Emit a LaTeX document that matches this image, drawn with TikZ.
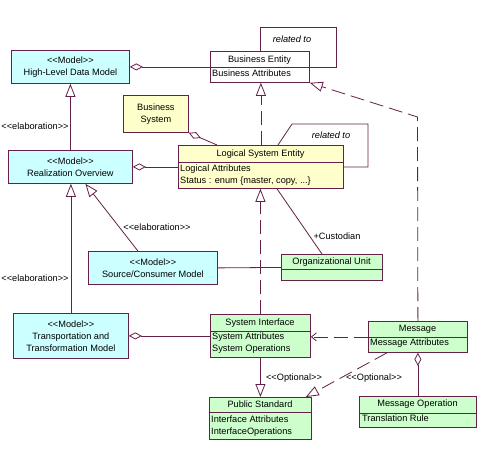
\documentclass[tikz,border=0pt]{standalone}
\usepackage{fontspec}
\setmainfont{Liberation Sans}
\usetikzlibrary{arrows.meta}
\definecolor{lc}{RGB}{100,32,72}
\definecolor{cyanf}{RGB}{204,255,255}
\definecolor{yelf}{RGB}{255,255,204}
\definecolor{grnf}{RGB}{204,255,204}
\newcommand\stOpen{<{}<}
\newcommand\stClose{>{}>}
\begin{document}
\begin{tikzpicture}[x=1pt,y=-1pt,
  every node/.style={font=\fontsize{9.2}{12}\selectfont},
  umlbox/.style={draw=lc, line width=0.8pt, rectangle, inner sep=0pt, anchor=north west},
  model/.style={umlbox, fill=cyanf, align=center},
  txt/.style={inner sep=0pt, anchor=mid},
  ltxt/.style={inner sep=0pt, anchor=mid west},
  conn/.style={draw=lc, line width=0.8pt},
  dsh/.style={dash pattern=on 14pt off 6pt},
  gen/.style={-{Triangle[open,length=13pt,width=10pt]}},
  agg/.style={-{Diamond[open,length=13pt,width=7pt]}},
  dep/.style={-{Straight Barb[length=5pt,width=8pt]}}
]
\fill[white] (0,0) rectangle (479,463);
\useasboundingbox (0,0) rectangle (479,463);

% ---- boxes ----
\node[model, minimum width=118pt, minimum height=33pt] (hldm) at (11,50) {\stOpen Model\stClose\\High-Level Data Model};

\node[umlbox, fill=white, minimum width=99pt, minimum height=31pt] (be) at (210,51) {};
\draw[conn] ([yshift=-16pt]be.north west) -- ([yshift=-16pt]be.north east);
\node[txt] (beT) at (259.5,60) {Business Entity};
\node[ltxt] (beA) at (212,73.5) {Business Attributes};

\node[umlbox, fill=yelf, align=center, minimum width=65pt, minimum height=37pt] (bs) at (123,95) {Business\\System};

\node[umlbox, fill=yelf, minimum width=165pt, minimum height=43pt] (lse) at (178,145) {};
\draw[conn] ([yshift=-17pt]lse.north west) -- ([yshift=-17pt]lse.north east);
\node[txt] (lseT) at (260.5,153.5) {Logical System Entity};
\node[ltxt] (lseA) at (180,169) {Logical Attributes};
\node[ltxt] (lseB) at (180,181) {Status : enum \{master, copy, ...\}};

\node[model, minimum width=124pt, minimum height=33pt] (ro) at (8,150) {\stOpen Model\stClose\\Realization Overview};

\node[model, minimum width=129pt, minimum height=33pt] (scm) at (88,251) {\stOpen Model\stClose\\Source/Consumer Model};

\node[umlbox, fill=grnf, minimum width=101pt, minimum height=26pt] (ou) at (281,254) {};
\draw[conn] ([yshift=-15pt]ou.north west) -- ([yshift=-15pt]ou.north east);
\node[txt] (ouT) at (331.5,262) {Organizational Unit};

\node[model, minimum width=115pt, minimum height=45pt] (ttm) at (13,313) {\stOpen Model\stClose\\Transportation and\\Transformation Model};

\node[umlbox, fill=grnf, minimum width=100pt, minimum height=43pt] (si) at (210,314) {};
\draw[conn] ([yshift=-17pt]si.north west) -- ([yshift=-17pt]si.north east);
\node[txt] (siT) at (260,323) {System Interface};
\node[ltxt] (siA) at (212,337) {System Attributes};
\node[ltxt] (siB) at (212,349) {System Operations};

\node[umlbox, fill=grnf, minimum width=99pt, minimum height=31pt] (msg) at (368,321) {};
\draw[conn] ([yshift=-16pt]msg.north west) -- ([yshift=-16pt]msg.north east);
\node[txt] (msgT) at (417.5,329) {Message};
\node[ltxt] (msgA) at (370,343) {Message Attributes};

\node[umlbox, fill=grnf, minimum width=102pt, minimum height=42pt] (ps) at (209,397) {};
\draw[conn] ([yshift=-15pt]ps.north west) -- ([yshift=-15pt]ps.north east);
\node[txt] (psT) at (260,404.5) {Public Standard};
\node[ltxt] (psA) at (211,419.5) {Interface Attributes};
\node[ltxt] (psB) at (211,431.5) {InterfaceOperations};

\node[umlbox, fill=grnf, minimum width=117pt, minimum height=31pt] (mo) at (359,396) {};
\draw[conn] ([yshift=-17pt]mo.north west) -- ([yshift=-17pt]mo.north east);
\node[txt] (moT) at (417.5,404) {Message Operation};
\node[ltxt] (moA) at (362,418.5) {Translation Rule};

% ---- connectors ----
\draw[conn, agg] (be.west) -- (hldm.east);
\coordinate (beloop) at (336,27);
\draw[conn] (be.north) |- (beloop) |- (be.east);
\node[txt] (rel1) at (292,40) {\itshape related to};

\draw[conn, dsh, gen] (lse.north) -- (lse.north |- be.south);
\draw[conn, agg] ([xshift=39pt]lse.north west) -- (bs.south east);

\coordinate (lseA) at (292,124);
\coordinate (lseB) at (368,124);
\draw[conn] ([xshift=100pt]lse.north west) -- (lseA) -- (lseB) |- (lse.east);
\node[txt] (rel2) at (331,136) {\itshape related to};

\draw[conn, gen] (ro.north) -- (ro.north |- hldm.south);
\node[txt] (el1) at (35,127) {\stOpen elaboration\stClose};
\draw[conn, agg] (lse.west) -- (ro.east);

\draw[conn, gen] ([xshift=-15pt]scm.north) -- ([xshift=15pt]ro.south);
\node[txt] (el2) at (157,228) {\stOpen elaboration\stClose};

\draw[conn] (scm.east) -- (ou.west);
\draw[conn] ([xshift=99pt]lse.south west) -- ([xshift=41pt]ou.north west);
\node[txt] (cust) at (337,237) {+Custodian};

\draw[conn, dsh, gen] (si.north) -- (si.north |- lse.south);

\draw[conn, gen] (ttm.north) -- (ttm.north |- ro.south);
\node[txt] (el3) at (35,279) {\stOpen elaboration\stClose};
\draw[conn, agg] (si.west) -- (ttm.east);

\draw[conn, dsh, dep] (msg.west) -- (msg.west -| si.east);

\coordinate (msgbend) at (417.5,117);
\draw[conn, dsh, gen] (msg.north) -- (msgbend) -- (be.south east);

\draw[conn, gen] (si.south) -- (si.south |- ps.north);
\node[txt] (opt1) at (294,378) {\stOpen Optional\stClose};

\draw[conn, dsh, gen] ([xshift=19pt]msg.south west) -- ([xshift=-6pt]ps.north east);
\node[txt] (opt2) at (374,378) {\stOpen Optional\stClose};

\draw[conn, agg] (mo.north) -- (msg.south);
\end{tikzpicture}
\end{document}
